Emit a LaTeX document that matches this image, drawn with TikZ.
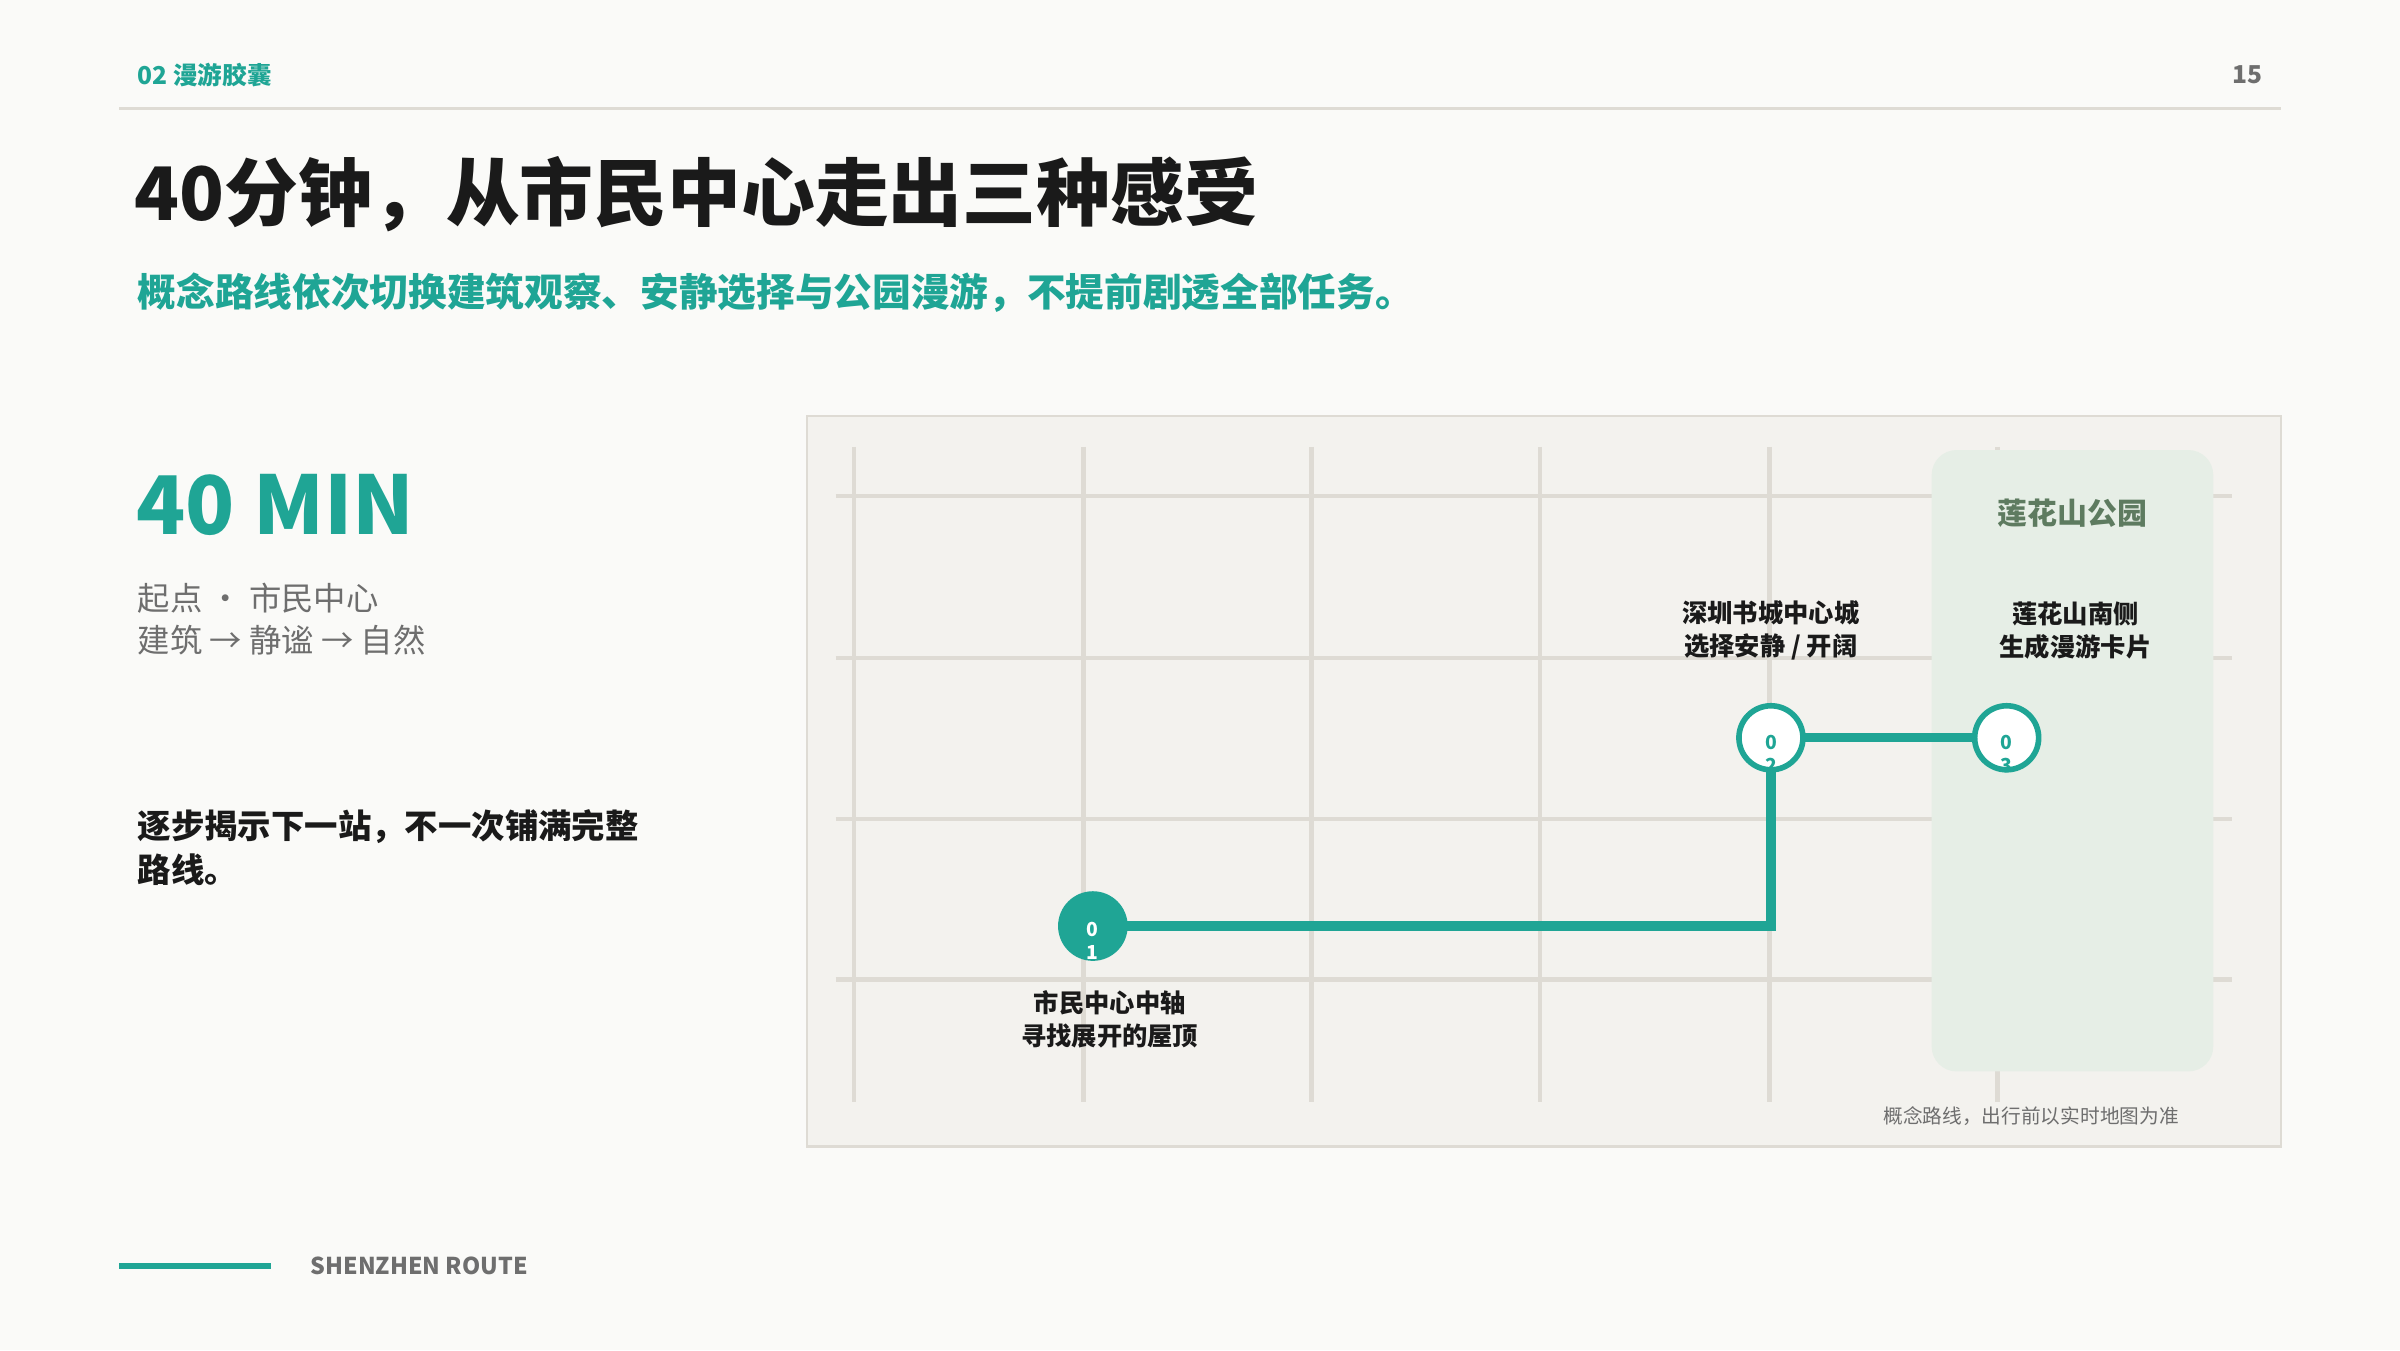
\documentclass[tikz,border=0pt]{standalone}
\usepackage{fontspec}
\setmainfont{Noto Sans CJK SC}
\usetikzlibrary{positioning}
\definecolor{teal}{HTML}{1FA595}
\definecolor{paper}{HTML}{FAFAF8}
\definecolor{mapbg}{HTML}{F3F2EE}
\definecolor{grid}{HTML}{DEDBD4}
\definecolor{park}{HTML}{E6EEE6}
\definecolor{parktext}{HTML}{5E7B60}
\definecolor{ink}{HTML}{1A1A1A}
\definecolor{soft}{HTML}{6E6E6E}
\begin{document}
\begin{tikzpicture}[
        x=0.015306cm, y=-0.015306cm,
        every node/.style={inner sep=0pt, outer sep=0pt},
        gridline/.style={draw=grid, line width=1.3pt},
        route/.style={draw=teal, line width=2.6pt},
        stop/.style={circle, minimum size=0.64cm, draw=teal, line width=1.6pt, fill=white},
        stopnum/.style={font=\bfseries\fontsize{5.5}{5.5}\selectfont, text=teal},
        label/.style={font=\bfseries\fontsize{7.2}{9.4}\selectfont, text=ink, align=center}
    ]
    % Page
    \fill[paper] (0,0) rectangle (1568,882);
    \useasboundingbox (0,0) rectangle (1568,882);

    % Header
    \node (section) [anchor=west, font=\bfseries\fontsize{7}{7}\selectfont, text=teal] at (90,49) {02 漫游胶囊};
    \node (page) [anchor=east, font=\bfseries\fontsize{7}{7}\selectfont, text=soft] at (1478,49) {15};
    \draw[grid, line width=1pt] (78,71) -- (1490,71);

    % Title
    \node (title) [anchor=west, font=\bfseries\fontsize{21}{21}\selectfont, text=ink] at (88,127) {40分钟，从市民中心走出三种感受};
    \node (subtitle) [anchor=west, font=\bfseries\fontsize{11}{11}\selectfont, text=teal] at (90,191) {概念路线依次切换建筑观察、安静选择与公园漫游，不提前剧透全部任务。};

    % Left column
    \node (duration) [anchor=west, font=\bfseries\fontsize{23}{23}\selectfont, text=teal] at (89,330) {40 MIN};
    \node (stops) [anchor=north west, align=left, font=\fontsize{9.2}{12}\selectfont, text=soft] at (90,381) {起点 · 市民中心\\建筑 → 静谧 → 自然};
    \node (note) [anchor=north west, align=left, font=\bfseries\fontsize{9.5}{12.5}\selectfont, text=ink] at (90,529) {逐步揭示下一站，不一次铺满完整\\路线。};

    % Map
    \draw[fill=mapbg, draw=grid, line width=0.6pt] (527,272) rectangle (1490,749);
    \foreach \x in {558,708,857,1006,1156,1305}
        \draw[gridline] (\x,292) -- (\x,720);
    \foreach \y in {324,430,535,640}
        \draw[gridline] (546,\y) -- (1458,\y);
    \fill[park, rounded corners=0.25cm] (1262,294) rectangle (1446,700);
    \node (parkname) [font=\bfseries\fontsize{8.5}{8.5}\selectfont, text=parktext] at (1354,335) {莲花山公园};

    % Route
    \node (s1) [stop, fill=teal] at (714,605) {};
    \node (s2) [stop] at (1157,482) {};
    \node (s3) [stop] at (1311,482) {};
    \coordinate (bend) at (1157,605);
    \path[route] (s1) -- (bend) -- (s2);
    \path[route] (s2) -- (s3);

    \node (s1a) [stopnum, text=white] at (714,607) {0};
    \node (s1b) [stopnum, text=white] at (714,622) {1};
    \node (s2a) [stopnum] at (1157,485) {0};
    \node (s2b) [stopnum] at (1157,500) {2};
    \node (s3a) [stopnum] at (1311,485) {0};
    \node (s3b) [stopnum] at (1311,500) {3};

    % Stop labels
    \node (l1) [label] at (725,666) {市民中心中轴\\寻找展开的屋顶};
    \node (l2) [label] at (1157,412) {深圳书城中心城\\选择安静 / 开阔};
    \node (l3) [label] at (1356,412) {莲花山南侧\\生成漫游卡片};
    \node (disclaimer) [font=\fontsize{5.6}{5.6}\selectfont, text=soft] at (1327,729) {概念路线，出行前以实时地图为准};

    % Footer
    \draw[teal, line width=1.8pt] (78,827) -- (177,827);
    \node (footer) [anchor=west, font=\bfseries\fontsize{6.6}{6.6}\selectfont, text=soft] at (203,827) {SHENZHEN ROUTE};
\end{tikzpicture}
\end{document}
